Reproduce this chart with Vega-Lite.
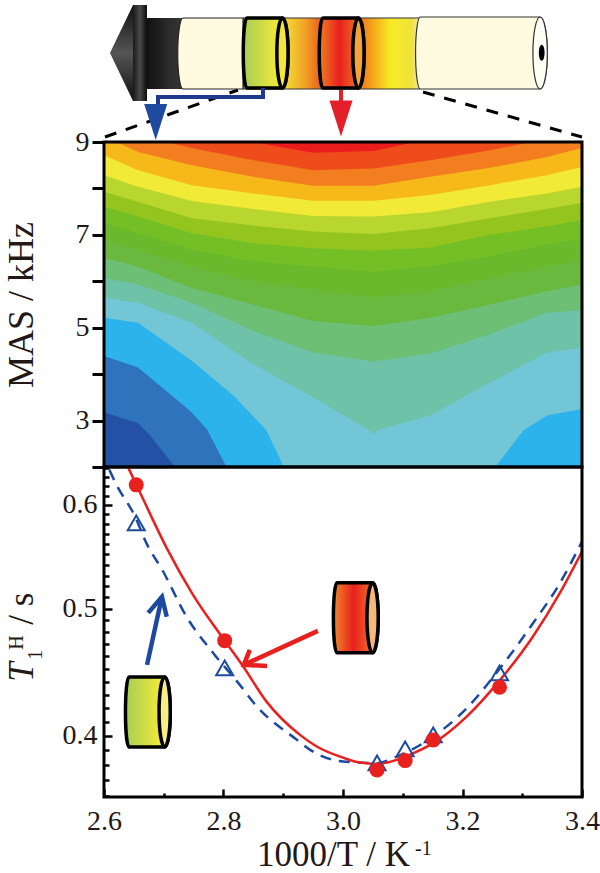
{
  "$schema": "https://vega.github.io/schema/vega-lite/v6.json",
  "background": "white",
  "padding": {"left": 3, "right": 18, "top": 0, "bottom": 0},
  "bounds": "flush",
  "spacing": 0,
  "config": {"view": {"stroke": null}, "text": {"font": "Liberation Serif", "color": "#231815"}},
  "datasets": {
    "contours": [
      {"band":"b00","t":2.6,"mas":2},{"band":"b00","t":3.4,"mas":2},
      {"band":"b01","t":2.6,"mas":3.179},{"band":"b01","t":2.657,"mas":2.943},{"band":"b01","t":2.677,"mas":2.679},{"band":"b01","t":2.719,"mas":2},{"band":"b01","t":3.4,"mas":2},
      {"band":"b02","t":2.6,"mas":4.393},{"band":"b02","t":2.657,"mas":4.143},{"band":"b02","t":2.744,"mas":3.214},{"band":"b02","t":2.772,"mas":2.82},{"band":"b02","t":2.805,"mas":2},{"band":"b02","t":3.4,"mas":2},
      {"band":"b03","t":2.6,"mas":5.214},{"band":"b03","t":2.657,"mas":5.107},{"band":"b03","t":2.747,"mas":4.286},{"band":"b03","t":2.817,"mas":3.536},{"band":"b03","t":2.872,"mas":2.786},{"band":"b03","t":2.901,"mas":2},{"band":"b03","t":3.255,"mas":2},{"band":"b03","t":3.302,"mas":2.786},{"band":"b03","t":3.341,"mas":3.107},{"band":"b03","t":3.4,"mas":3.25},
      {"band":"b04","t":2.6,"mas":5.643},{"band":"b04","t":2.657,"mas":5.536},{"band":"b04","t":2.747,"mas":5.107},{"band":"b04","t":2.85,"mas":4.214},{"band":"b04","t":2.95,"mas":3.5},{"band":"b04","t":3.04,"mas":2.82},{"band":"b04","t":3.051,"mas":2.714},{"band":"b04","t":3.059,"mas":2.8},{"band":"b04","t":3.146,"mas":3.107},{"band":"b04","t":3.246,"mas":3.821},{"band":"b04","t":3.341,"mas":4.464},{"band":"b04","t":3.4,"mas":4.571},
      {"band":"b05","t":2.6,"mas":6.071},{"band":"b05","t":2.657,"mas":5.929},{"band":"b05","t":2.747,"mas":5.536},{"band":"b05","t":2.85,"mas":4.929},{"band":"b05","t":2.95,"mas":4.464},{"band":"b05","t":3.051,"mas":4.271},{"band":"b05","t":3.146,"mas":4.443},{"band":"b05","t":3.246,"mas":4.857},{"band":"b05","t":3.341,"mas":5.321},{"band":"b05","t":3.4,"mas":5.379},
      {"band":"b06","t":2.6,"mas":6.5},{"band":"b06","t":2.657,"mas":6.321},{"band":"b06","t":2.747,"mas":5.857},{"band":"b06","t":2.85,"mas":5.5},{"band":"b06","t":2.95,"mas":5.143},{"band":"b06","t":3.051,"mas":5.036},{"band":"b06","t":3.146,"mas":5.214},{"band":"b06","t":3.246,"mas":5.5},{"band":"b06","t":3.341,"mas":5.786},{"band":"b06","t":3.4,"mas":5.929},
      {"band":"b07","t":2.6,"mas":6.893},{"band":"b07","t":2.657,"mas":6.679},{"band":"b07","t":2.747,"mas":6.321},{"band":"b07","t":2.85,"mas":6.0},{"band":"b07","t":2.95,"mas":5.821},{"band":"b07","t":3.051,"mas":5.657},{"band":"b07","t":3.146,"mas":5.786},{"band":"b07","t":3.246,"mas":6.071},{"band":"b07","t":3.341,"mas":6.321},{"band":"b07","t":3.4,"mas":6.443},
      {"band":"b08","t":2.6,"mas":7.25},{"band":"b08","t":2.657,"mas":7.036},{"band":"b08","t":2.747,"mas":6.679},{"band":"b08","t":2.85,"mas":6.429},{"band":"b08","t":2.95,"mas":6.321},{"band":"b08","t":3.051,"mas":6.2},{"band":"b08","t":3.146,"mas":6.321},{"band":"b08","t":3.246,"mas":6.536},{"band":"b08","t":3.341,"mas":6.786},{"band":"b08","t":3.4,"mas":6.914},
      {"band":"b09","t":2.6,"mas":7.607},{"band":"b09","t":2.657,"mas":7.393},{"band":"b09","t":2.747,"mas":7.036},{"band":"b09","t":2.85,"mas":6.821},{"band":"b09","t":2.95,"mas":6.714},{"band":"b09","t":3.051,"mas":6.657},{"band":"b09","t":3.146,"mas":6.729},{"band":"b09","t":3.246,"mas":7.0},{"band":"b09","t":3.341,"mas":7.179},{"band":"b09","t":3.4,"mas":7.321},
      {"band":"b10","t":2.6,"mas":7.929},{"band":"b10","t":2.657,"mas":7.714},{"band":"b10","t":2.747,"mas":7.357},{"band":"b10","t":2.85,"mas":7.2},{"band":"b10","t":2.95,"mas":7.071},{"band":"b10","t":3.051,"mas":7.021},{"band":"b10","t":3.146,"mas":7.143},{"band":"b10","t":3.246,"mas":7.357},{"band":"b10","t":3.341,"mas":7.557},{"band":"b10","t":3.4,"mas":7.693},
      {"band":"b11","t":2.6,"mas":8.286},{"band":"b11","t":2.657,"mas":8.036},{"band":"b11","t":2.747,"mas":7.729},{"band":"b11","t":2.85,"mas":7.557},{"band":"b11","t":2.95,"mas":7.407},{"band":"b11","t":3.051,"mas":7.393},{"band":"b11","t":3.146,"mas":7.486},{"band":"b11","t":3.246,"mas":7.714},{"band":"b11","t":3.341,"mas":7.893},{"band":"b11","t":3.4,"mas":8.036},
      {"band":"b12","t":2.6,"mas":8.714},{"band":"b12","t":2.657,"mas":8.393},{"band":"b12","t":2.747,"mas":8.071},{"band":"b12","t":2.85,"mas":7.893},{"band":"b12","t":2.95,"mas":7.736},{"band":"b12","t":3.051,"mas":7.736},{"band":"b12","t":3.146,"mas":7.857},{"band":"b12","t":3.246,"mas":8.071},{"band":"b12","t":3.341,"mas":8.286},{"band":"b12","t":3.4,"mas":8.464},
      {"band":"b13","t":2.6,"mas":9},{"band":"b13","t":2.627,"mas":8.964},{"band":"b13","t":2.657,"mas":8.786},{"band":"b13","t":2.747,"mas":8.5},{"band":"b13","t":2.85,"mas":8.25},{"band":"b13","t":2.95,"mas":8.057},{"band":"b13","t":3.051,"mas":8.057},{"band":"b13","t":3.146,"mas":8.25},{"band":"b13","t":3.246,"mas":8.443},{"band":"b13","t":3.341,"mas":8.679},{"band":"b13","t":3.4,"mas":8.871},
      {"band":"b14","t":2.705,"mas":9},{"band":"b14","t":2.747,"mas":8.871},{"band":"b14","t":2.85,"mas":8.607},{"band":"b14","t":2.95,"mas":8.393},{"band":"b14","t":3.051,"mas":8.429},{"band":"b14","t":3.146,"mas":8.607},{"band":"b14","t":3.246,"mas":8.821},{"band":"b14","t":3.302,"mas":8.964},{"band":"b14","t":3.319,"mas":9},
      {"band":"b15","t":2.85,"mas":9},{"band":"b15","t":2.911,"mas":8.857},{"band":"b15","t":2.95,"mas":8.771},{"band":"b15","t":3.051,"mas":8.807},{"band":"b15","t":3.107,"mas":8.964},{"band":"b15","t":3.123,"mas":9}
    ],
    "fitRed": [
      {"t":2.641,"v":0.64},{"t":2.666,"v":0.6054},{"t":2.705,"v":0.5562},{"t":2.749,"v":0.5124},{"t":2.802,"v":0.4728},{"t":2.833,"v":0.4518},{"t":2.872,"v":0.4248},{"t":2.928,"v":0.4007},{"t":2.956,"v":0.3926},{"t":3.0,"v":0.385},{"t":3.028,"v":0.3817},{"t":3.057,"v":0.3808},{"t":3.09,"v":0.3835},{"t":3.118,"v":0.388},{"t":3.151,"v":0.3949},{"t":3.207,"v":0.4138},{"t":3.263,"v":0.4413},{"t":3.318,"v":0.4762},{"t":3.363,"v":0.5141},{"t":3.4,"v":0.5529}
    ],
    "fitBlue": [
      {"t":2.609,"v":0.6381},{"t":2.621,"v":0.6215},{"t":2.652,"v":0.5879},{"t":2.671,"v":0.5611},{"t":2.699,"v":0.5338},{"t":2.738,"v":0.4932},{"t":2.783,"v":0.4625},{"t":2.825,"v":0.4388},{"t":2.856,"v":0.4211},{"t":2.923,"v":0.3972},{"t":2.945,"v":0.3903},{"t":3.0,"v":0.3824},{"t":3.057,"v":0.3813},{"t":3.09,"v":0.3857},{"t":3.151,"v":0.3995},{"t":3.207,"v":0.4199},{"t":3.263,"v":0.4505},{"t":3.318,"v":0.4875},{"t":3.363,"v":0.523},{"t":3.4,"v":0.5627}
    ],
    "circles": [
      {"t":2.654,"v":0.6215},{"t":2.802,"v":0.4728},{"t":3.057,"v":0.3768},{"t":3.104,"v":0.383},{"t":3.151,"v":0.3972},{"t":3.262,"v":0.4357}
    ],
    "triangles": [
      {"t":2.654,"v":0.5814},{"t":2.802,"v":0.4507},{"t":3.057,"v":0.3815},{"t":3.104,"v":0.391},{"t":3.151,"v":0.4007},{"t":3.262,"v":0.4468}
    ]
  },
  "vconcat": [
    {
      "width": 478,
      "height": 142,
      "encoding": {
        "x": {"field": "pos", "type": "quantitative", "scale": {"domain": [0, 47.8]}, "axis": null},
        "y": {"field": "r", "type": "quantitative", "scale": {"domain": [14.2, 0]}, "axis": null}
      },
      "layer": [
        {
          "data": {"values": [
            {"side":"left","pos":13.4,"r":9.0},{"side":"left","pos":0.1,"r":13.7},
            {"side":"right","pos":31.9,"r":9.2},{"side":"right","pos":47.8,"r":13.7}
          ]},
          "mark": {"type": "line", "color": "#000", "strokeWidth": 3, "strokeDash": [12, 10]},
          "encoding": {"detail": {"field": "side"}}
        },
        {
          "data": {"values": [{"pos":4.3,"pos2":8.6,"r":1.8,"r2":8.9}]},
          "mark": {"type": "rect", "fill": {"gradient": "linear", "x1": 0, "y1": 0, "x2": 1, "y2": 0, "stops": [{"offset": 0, "color": "#111"}, {"offset": 0.5, "color": "#2b2b2b"}, {"offset": 1, "color": "#3c3c3c"}]}},
          "encoding": {"x2": {"field": "pos2"}, "y2": {"field": "r2"}}
        },
        {
          "data": {"values": [{"pos":1.75,"r":5.3}]},
          "mark": {"type": "point", "filled": true, "opacity": 1, "size": 9216, "shape": "M-0.24,0 L0.24,-1 L0.24,1 Z", "fill": {"gradient": "linear", "x1": 0, "y1": 0, "x2": 0, "y2": 1, "stops": [{"offset": 0, "color": "#111"}, {"offset": 0.5, "color": "#555"}, {"offset": 1, "color": "#111"}]}}
        },
        {
          "data": {"values": [{"pos":2.9,"pos2":4.3,"r":0.5,"r2":10.1}]},
          "mark": {"type": "rect", "fill": {"gradient": "linear", "x1": 0, "y1": 0, "x2": 1, "y2": 0, "stops": [{"offset": 0, "color": "#1a1a1a"}, {"offset": 0.5, "color": "#4a4a4a"}, {"offset": 1, "color": "#0a0a0a"}]}},
          "encoding": {"x2": {"field": "pos2"}, "y2": {"field": "r2"}}
        },
        {
          "data": {"values": [{"pos":13.9,"pos2":31.6,"r":1.8,"r2":8.9}]},
          "mark": {"type": "rect", "stroke": "#333", "strokeWidth": 1, "fill": {"gradient": "linear", "x1": 0, "y1": 0, "x2": 1, "y2": 0, "stops": [{"offset": 0, "color": "#A6CF52"}, {"offset": 0.21, "color": "#F5E93A"}, {"offset": 0.35, "color": "#F0A325"}, {"offset": 0.45, "color": "#E9561F"}, {"offset": 0.54, "color": "#E9201E"}, {"offset": 0.757, "color": "#F6B71C"}, {"offset": 0.835, "color": "#F8EC25"}, {"offset": 0.95, "color": "#F0E23A"}, {"offset": 1, "color": "#F5E6A8"}]}},
          "encoding": {"x2": {"field": "pos2"}, "y2": {"field": "r2"}}
        },
        {
          "data": {"values": [{"pos":10.6,"r":5.35}]},
          "mark": {"type": "point", "filled": true, "opacity": 1, "size": 5041, "fill": "#FEFBE0", "stroke": "#222", "strokeWidth": 1.2, "shape": "M-0.76,-1 L0.93,-1 L0.93,1 L-0.76,1 A0.15,1 0 0,1 -0.76,-1 Z"}
        },
        {
          "data": {"values": [{"pos":37.6,"r":5.3}]},
          "mark": {"type": "point", "filled": true, "opacity": 1, "size": 5184, "fill": "#FEFBE0", "stroke": "#333", "strokeWidth": 1.2, "shape": "M-1.66,-1 L1.67,-1 A0.2,1 0 0,1 1.67,1 L-1.66,1 A0.13,1 0 0,1 -1.66,-1 Z"}
        },
        {
          "data": {"values": [{"pos":37.6,"r":5.3}]},
          "mark": {"type": "point", "filled": true, "opacity": 1, "size": 5184, "fill": "#FFFEF5", "stroke": "#333", "strokeWidth": 1.2, "shape": "M1.67,-1 A0.2,1 0 1,1 1.67,1 A0.2,1 0 1,1 1.67,-1 Z"}
        },
        {
          "data": {"values": [{"pos":43.77,"r":5.27}]},
          "mark": {"type": "point", "filled": true, "opacity": 1, "size": 256, "fill": "#000", "shape": "M0,-1 A0.36,1 0 1,1 0,1 A0.36,1 0 1,1 0,-1 Z"}
        },
        {
          "data": {"values": [{"pos":16.2,"r":5.3}]},
          "mark": {"type": "point", "filled": true, "opacity": 1, "size": 4900, "stroke": "#000", "strokeWidth": 3.5, "shape": "M-0.55,-1 L0.47,-1 A0.16,1 0 0,1 0.47,1 L-0.55,1 A0.1,1 0 0,1 -0.55,-1 Z", "fill": {"gradient": "linear", "x1": 0, "y1": 0, "x2": 1, "y2": 0, "stops": [{"offset": 0, "color": "#A5CF55"}, {"offset": 0.75, "color": "#F0E73C"}, {"offset": 1, "color": "#F5E93A"}]}}
        },
        {
          "data": {"values": [{"pos":16.2,"r":5.3}]},
          "mark": {"type": "point", "filled": true, "opacity": 1, "size": 4900, "fill": "#F4E53E", "stroke": "#000", "strokeWidth": 3.5, "shape": "M0.47,-1 A0.16,1 0 1,1 0.47,1 A0.16,1 0 1,1 0.47,-1 Z"}
        },
        {
          "data": {"values": [{"pos":23.8,"r":5.3}]},
          "mark": {"type": "point", "filled": true, "opacity": 1, "size": 4900, "stroke": "#000", "strokeWidth": 3.5, "shape": "M-0.55,-1 L0.47,-1 A0.16,1 0 0,1 0.47,1 L-0.55,1 A0.1,1 0 0,1 -0.55,-1 Z", "fill": {"gradient": "linear", "x1": 0, "y1": 0, "x2": 1, "y2": 0, "stops": [{"offset": 0, "color": "#EE7F22"}, {"offset": 0.45, "color": "#E9201E"}, {"offset": 1, "color": "#EF8A24"}]}}
        },
        {
          "data": {"values": [{"pos":23.8,"r":5.3}]},
          "mark": {"type": "point", "filled": true, "opacity": 1, "size": 4900, "fill": "#F4A23C", "stroke": "#000", "strokeWidth": 3.5, "shape": "M0.47,-1 A0.16,1 0 1,1 0.47,1 A0.16,1 0 1,1 0.47,-1 Z"}
        },
        {
          "data": {"values": [{"seq":1,"pos":15.9,"r":8.8},{"seq":2,"pos":15.9,"r":9.7},{"seq":3,"pos":5.4,"r":9.7},{"seq":4,"pos":5.4,"r":10.7}]},
          "mark": {"type": "line", "color": "#1F3A8C", "strokeWidth": 4, "strokeJoin": "miter"},
          "encoding": {"order": {"field": "seq"}}
        },
        {
          "data": {"values": [{"pos":23.7,"r":9.0},{"pos":23.7,"r":10.2}]},
          "mark": {"type": "line", "color": "#E3202A", "strokeWidth": 4},
          "encoding": {"order": {"field": "r"}}
        },
        {
          "data": {"values": [{"pos":5.17,"r":12.2}]},
          "mark": {"type": "point", "filled": true, "opacity": 1, "size": 1296, "fill": "#1E4AA0", "shape": "M-0.64,-1 L0.64,-1 L0,1 Z"}
        },
        {
          "data": {"values": [{"pos":23.7,"r":11.85}]},
          "mark": {"type": "point", "filled": true, "opacity": 1, "size": 1296, "fill": "#E3202A", "shape": "M-0.64,-1 L0.64,-1 L0,1 Z"}
        }
      ]
    },
    {
      "width": 478,
      "height": 325,
      "encoding": {
        "x": {"field": "t", "type": "quantitative", "scale": {"domain": [2.6, 3.4], "nice": false, "zero": false}, "axis": null},
        "y": {
          "field": "mas", "type": "quantitative",
          "scale": {"domain": [2, 9], "nice": false, "zero": false},
          "axis": {
            "values": [2, 3, 4, 5, 6, 7, 8, 9], "title": "MAS / kHz", "titleFont": "Liberation Serif", "titleFontSize": 36, "titleFontWeight": "normal", "titleColor": "#231815", "titlePadding": 35,
            "labelExpr": "datum.value % 2 == 1 ? datum.label : ''", "labelFont": "Liberation Serif", "labelFontSize": 28, "labelColor": "#231815", "labelPadding": 3, "labelOverlap": false,
            "tickSize": 12, "tickWidth": 3, "tickColor": "#000", "domain": false, "grid": false
          }
        }
      },
      "layer": [
        {
          "data": {"name": "contours"},
          "mark": {"type": "area", "clip": true, "interpolate": "linear"},
          "encoding": {
            "y2": {"datum": 9},
            "color": {
              "field": "band", "type": "nominal", "legend": null,
              "scale": {
                "domain": ["b00","b01","b02","b03","b04","b05","b06","b07","b08","b09","b10","b11","b12","b13","b14","b15"],
                "range": ["#2351A5","#2E73BB","#2CB3EC","#72C6D6","#6DC2A8","#6CBF74","#6AB83D","#6AB92C","#74BE26","#93C51E","#B9D62F","#F1EA37","#F7B91A","#F37E20","#EE4C1B","#EA1D1C"]
              }
            }
          }
        },
        {
          "data": {"values": [{"t": 2.6, "t2": 3.4, "mas": 2, "mas2": 9}]},
          "mark": {"type": "rect", "fill": null, "stroke": "#000", "strokeWidth": 3},
          "encoding": {
            "x2": {"field": "t2"},
            "y2": {"field": "mas2"}
          }
        }
      ]
    },
    {
      "width": 478,
      "height": 330,
      "encoding": {
        "x": {"field": "t", "type": "quantitative", "scale": {"domain": [2.6, 3.4], "nice": false, "zero": false}},
        "y": {"field": "v", "type": "quantitative", "scale": {"type": "log", "domain": [0.3593, 0.6413], "nice": false}}
      },
      "layer": [
        {
          "data": {"name": "fitBlue"},
          "mark": {"type": "line", "clip": true, "color": "#1D4AA0", "strokeWidth": 2.5, "strokeDash": [11, 8], "interpolate": "monotone"},
          "encoding": {
            "x": {
              "field": "t", "type": "quantitative",
              "axis": {
                "orient": "bottom", "title": null, "values": [2.6, 2.7, 2.8, 2.9, 3.0, 3.1, 3.2, 3.3, 3.4],
                "labelExpr": "round(datum.value * 10) % 2 == 0 ? format(datum.value, '.1f') : ''", "labelFont": "Liberation Serif", "labelFontSize": 28, "labelColor": "#231815", "labelPadding": 18, "labelOverlap": false, "labelFlush": false, "labelBound": false,
                "tickSize": {"condition": {"test": "round(datum.value * 10) % 2 == 0", "value": -8}, "value": -4}, "tickWidth": 2.5, "tickColor": "#000", "domain": false, "grid": false
              }
            },
            "y": {
              "field": "v", "type": "quantitative",
              "axis": {
                "orient": "left", "title": null, "values": [0.36, 0.37, 0.38, 0.39, 0.4, 0.41, 0.42, 0.43, 0.44, 0.45, 0.46, 0.47, 0.48, 0.49, 0.5, 0.51, 0.52, 0.53, 0.54, 0.55, 0.56, 0.57, 0.58, 0.59, 0.6, 0.61, 0.62, 0.63, 0.64],
                "labelExpr": "round(datum.value * 100) % 10 == 0 ? format(datum.value, '.1f') : ''", "labelFont": "Liberation Serif", "labelFontSize": 28, "labelColor": "#231815", "labelPadding": 15, "labelOverlap": false, "labelFlush": false, "labelBound": false,
                "tickSize": {"condition": {"test": "round(datum.value * 100) % 10 == 0", "value": -8}, "value": -5}, "tickWidth": 2.5, "tickColor": "#000", "domain": false, "grid": false
              }
            }
          }
        },
        {
          "data": {"name": "fitRed"},
          "mark": {"type": "line", "clip": true, "color": "#E8201E", "strokeWidth": 2.5, "interpolate": "monotone"}
        },
        {
          "data": {"name": "triangles"},
          "mark": {"type": "point", "shape": "triangle-up", "size": 289, "filled": false, "opacity": 1, "stroke": "#1D4AA0", "strokeWidth": 2}
        },
        {
          "data": {"name": "circles"},
          "mark": {"type": "point", "shape": "circle", "size": 225, "filled": true, "opacity": 1, "color": "#E8201E"}
        },
        {
          "data": {"values": [
            {"arrow":"red","seq":1,"t":2.958,"v":0.481},{"arrow":"red","seq":2,"t":2.834,"v":0.4531},
            {"arrow":"redHead","seq":1,"t":2.844,"v":0.4652},{"arrow":"redHead","seq":2,"t":2.834,"v":0.4531},{"arrow":"redHead","seq":3,"t":2.873,"v":0.4523}
          ]},
          "mark": {"type": "line", "color": "#E8201E", "strokeWidth": 4.5, "strokeJoin": "miter"},
          "encoding": {"detail": {"field": "arrow"}, "order": {"field": "seq"}}
        },
        {
          "data": {"values": [
            {"arrow":"blue","seq":1,"t":2.672,"v":0.4531},{"arrow":"blue","seq":2,"t":2.697,"v":0.5106},
            {"arrow":"blueHead","seq":1,"t":2.674,"v":0.4964},{"arrow":"blueHead","seq":2,"t":2.697,"v":0.5106},{"arrow":"blueHead","seq":3,"t":2.705,"v":0.493}
          ]},
          "mark": {"type": "line", "color": "#1D4AA0", "strokeWidth": 4.5, "strokeJoin": "miter"},
          "encoding": {"detail": {"field": "arrow"}, "order": {"field": "seq"}}
        },
        {
          "data": {"values": [{"t":2.674,"v":0.4172}]},
          "mark": {"type": "point", "filled": true, "opacity": 1, "size": 4900, "stroke": "#000", "strokeWidth": 3.5, "shape": "M-0.55,-1 L0.47,-1 A0.16,1 0 0,1 0.47,1 L-0.55,1 A0.1,1 0 0,1 -0.55,-1 Z", "fill": {"gradient": "linear", "x1": 0, "y1": 0, "x2": 1, "y2": 0, "stops": [{"offset": 0, "color": "#A5CF55"}, {"offset": 0.75, "color": "#F0E73C"}, {"offset": 1, "color": "#F5E93A"}]}}
        },
        {
          "data": {"values": [{"t":2.674,"v":0.4172}]},
          "mark": {"type": "point", "filled": true, "opacity": 1, "size": 4900, "fill": "#F6EE80", "stroke": "#000", "strokeWidth": 3.5, "shape": "M0.47,-1 A0.16,1 0 1,1 0.47,1 A0.16,1 0 1,1 0.47,-1 Z"}
        },
        {
          "data": {"values": [{"t":3.022,"v":0.4921}]},
          "mark": {"type": "point", "filled": true, "opacity": 1, "size": 4900, "stroke": "#000", "strokeWidth": 3.5, "shape": "M-0.55,-1 L0.47,-1 A0.16,1 0 0,1 0.47,1 L-0.55,1 A0.1,1 0 0,1 -0.55,-1 Z", "fill": {"gradient": "linear", "x1": 0, "y1": 0, "x2": 1, "y2": 0, "stops": [{"offset": 0, "color": "#EE8A2A"}, {"offset": 0.45, "color": "#E9201E"}, {"offset": 1, "color": "#EF8A24"}]}}
        },
        {
          "data": {"values": [{"t":3.022,"v":0.4921}]},
          "mark": {"type": "point", "filled": true, "opacity": 1, "size": 4900, "fill": "#F6B878", "stroke": "#000", "strokeWidth": 3.5, "shape": "M0.47,-1 A0.16,1 0 1,1 0.47,1 A0.16,1 0 1,1 0.47,-1 Z"}
        },
        {
          "data": {"values": [{"t":2.856,"v":0.3184,"label":"1000/T / K"}]},
          "mark": {"type": "text", "align": "left", "baseline": "alphabetic", "fontSize": 35},
          "encoding": {"text": {"field": "label"}}
        },
        {
          "data": {"values": [{"t":3.1205,"v":0.3246,"label":"-1"}]},
          "mark": {"type": "text", "align": "left", "baseline": "alphabetic", "fontSize": 20},
          "encoding": {"text": {"field": "label"}}
        },
        {
          "data": {"values": [{"t":2.4812,"v":0.4398,"label":"T"}]},
          "mark": {"type": "text", "align": "left", "baseline": "alphabetic", "angle": 270, "fontSize": 35, "fontStyle": "italic"},
          "encoding": {"text": {"field": "label"}}
        },
        {
          "data": {"values": [{"t":2.4962,"v":0.4571,"label":"1"}]},
          "mark": {"type": "text", "align": "left", "baseline": "alphabetic", "angle": 270, "fontSize": 20},
          "encoding": {"text": {"field": "label"}}
        },
        {
          "data": {"values": [{"t":2.4644,"v":0.4652,"label":"H"}]},
          "mark": {"type": "text", "align": "left", "baseline": "alphabetic", "angle": 270, "fontSize": 20},
          "encoding": {"text": {"field": "label"}}
        },
        {
          "data": {"values": [{"t":2.4812,"v":0.4861,"label":"/ s"}]},
          "mark": {"type": "text", "align": "left", "baseline": "alphabetic", "angle": 270, "fontSize": 35},
          "encoding": {"text": {"field": "label"}}
        },
        {
          "data": {"values": [{"t":2.6,"t2":3.4,"v":0.3593,"v2":0.6413}]},
          "mark": {"type": "rect", "fill": null, "stroke": "#000", "strokeWidth": 3},
          "encoding": {
            "x2": {"field": "t2"},
            "y2": {"field": "v2"}
          }
        }
      ]
    }
  ]
}
